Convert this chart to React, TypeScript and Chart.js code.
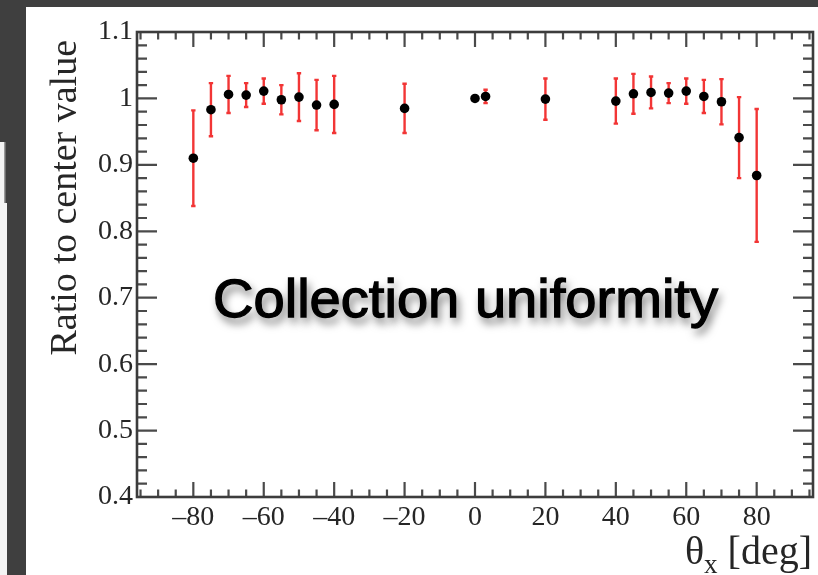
import React, { useEffect, useRef } from 'react';
import { Chart, registerables } from 'chart.js';

Chart.register(...registerables);

// ---- data ----
const thetaX = [-80, -75, -70, -65, -60, -55, -50, -45, -40, -20, 0, 3, 20, 40, 45, 50, 55, 60, 65, 70, 75, 80];
const ratio = [0.910, 0.983, 1.006, 1.005, 1.011, 0.998, 1.002, 0.990, 0.991, 0.985, 1.000, 1.003, 0.999, 0.996, 1.007, 1.009, 1.008, 1.011, 1.003, 0.995, 0.941, 0.884];
const ratioErr = [0.072, 0.040, 0.028, 0.018, 0.019, 0.022, 0.036, 0.038, 0.043, 0.037, 0.0, 0.010, 0.031, 0.034, 0.030, 0.024, 0.015, 0.019, 0.025, 0.034, 0.061, 0.100];
const xTicks = [-80, -60, -40, -20, 0, 20, 40, 60, 80];
const yTicks = [0.4, 0.5, 0.6, 0.7, 0.8, 0.9, 1.0, 1.1];
const xRange = [-96, 96];
const yRange = [0.4, 1.1];
const xMinorStep = 5;
const yMinorStep = 0.02;
const yTitle = 'Ratio to center value';
const xTitleMain = '\u03B8';
const xTitleSub = 'x';
const xTitleUnit = ' [deg]';
const overlayText = 'Collection uniformity';

const SERIF = '"Liberation Serif", "DejaVu Serif", serif';
const SANS = '"Liberation Sans", Arial, sans-serif';

const rootStyle = {
  id: 'rootStyle',
  beforeDraw(chart: any) {
    const ctx = chart.ctx as CanvasRenderingContext2D;
    const W = chart.width, H = chart.height;
    ctx.save();
    ctx.fillStyle = '#3f3f3f';
    ctx.fillRect(0, 0, W, H);
    ctx.fillStyle = '#ffffff';
    ctx.fillRect(26, 7, W - 26, H - 7);
    ctx.fillStyle = '#f4f4f4';
    ctx.fillRect(0, 142, 4, 61);
    ctx.fillRect(0, 203, 7, H - 203);
    ctx.fillStyle = '#9a9a9a';
    ctx.fillRect(4, 142, 1.5, 61);
    ctx.restore();
  },
  beforeDatasetsDraw(chart: any) {
    const ctx = chart.ctx as CanvasRenderingContext2D;
    const xs = chart.scales.x, ys = chart.scales.y;
    const { left, right, top, bottom } = chart.chartArea;
    ctx.save();
    // error bars
    ctx.strokeStyle = '#f23535';
    ctx.lineWidth = 2.4;
    thetaX.forEach((xv, i) => {
      const e = ratioErr[i];
      if (e <= 0) return;
      const px = xs.getPixelForValue(xv);
      const y1 = ys.getPixelForValue(ratio[i] + e);
      const y2 = ys.getPixelForValue(ratio[i] - e);
      ctx.beginPath();
      ctx.moveTo(px, y1);
      ctx.lineTo(px, y2);
      ctx.stroke();
      ctx.beginPath();
      ctx.moveTo(px - 2.2, y1);
      ctx.lineTo(px + 2.2, y1);
      ctx.moveTo(px - 2.2, y2);
      ctx.lineTo(px + 2.2, y2);
      ctx.stroke();
    });
    // ticks
    ctx.strokeStyle = '#4a4a4a';
    ctx.lineWidth = 2.2;
    ctx.beginPath();
    for (let k = Math.ceil(xRange[0] / xMinorStep); k * xMinorStep <= xRange[1]; k++) {
      const v = k * xMinorStep;
      const major = xTicks.some(t => Math.abs(t - v) < 1e-6);
      const len = major ? 15 : 7.5;
      const px = xs.getPixelForValue(v);
      ctx.moveTo(px, bottom);
      ctx.lineTo(px, bottom - len);
      ctx.moveTo(px, top);
      ctx.lineTo(px, top + len);
    }
    for (let k = Math.ceil(yRange[0] / yMinorStep - 1e-6); k * yMinorStep <= yRange[1] + 1e-6; k++) {
      const v = k * yMinorStep;
      const major = yTicks.some(t => Math.abs(t - v) < 1e-6);
      const len = major ? 20 : 10;
      const py = ys.getPixelForValue(v);
      ctx.moveTo(left, py);
      ctx.lineTo(left + len, py);
      ctx.moveTo(right, py);
      ctx.lineTo(right - len, py);
    }
    ctx.stroke();
    // frame
    ctx.strokeStyle = '#3c3c3c';
    ctx.lineWidth = 2.6;
    ctx.strokeRect(left, top, right - left, bottom - top);
    ctx.restore();
  },
  afterDraw(chart: any) {
    const ctx = chart.ctx as CanvasRenderingContext2D;
    const { top, right } = chart.chartArea;
    ctx.save();
    // y title
    ctx.fillStyle = '#262626';
    ctx.translate(76, top + 8);
    ctx.rotate(-Math.PI / 2);
    ctx.font = `38px ${SERIF}`;
    ctx.textAlign = 'right';
    ctx.textBaseline = 'alphabetic';
    ctx.fillText(yTitle, 0, 0);
    ctx.restore();

    // x title
    ctx.save();
    ctx.fillStyle = '#262626';
    ctx.textBaseline = 'alphabetic';
    ctx.font = `40px ${SERIF}`;
    const wUnit = ctx.measureText(xTitleUnit).width;
    const wMain = ctx.measureText(xTitleMain).width;
    ctx.font = `27px ${SERIF}`;
    const wSub = ctx.measureText(xTitleSub).width;
    const xEnd = right - 1;
    const base = 564;
    ctx.font = `40px ${SERIF}`;
    ctx.textAlign = 'left';
    ctx.fillText(xTitleUnit, xEnd - wUnit, base);
    ctx.fillText(xTitleMain, xEnd - wUnit - wSub - wMain, base);
    ctx.font = `27px ${SERIF}`;
    ctx.fillText(xTitleSub, xEnd - wUnit - wSub, base + 9);
    ctx.restore();

    // overlay text with shadow
    ctx.save();
    ctx.font = `53px ${SANS}`;
    const w = ctx.measureText(overlayText).width;
    const sx = 505 / w;
    ctx.translate(213, 317);
    ctx.scale(sx, 1);
    ctx.shadowColor = 'rgba(0,0,0,0.6)';
    ctx.shadowBlur = 9;
    ctx.shadowOffsetX = 3;
    ctx.shadowOffsetY = 6;
    ctx.fillStyle = '#000';
    ctx.textBaseline = 'alphabetic';
    ctx.fillText(overlayText, 0, 0);
    ctx.shadowColor = 'rgba(0,0,0,0)';
    ctx.strokeStyle = '#000';
    ctx.lineWidth = 1.3;
    ctx.strokeText(overlayText, 0, 0);
    ctx.restore();
  },
};

export default function App() {
  const ref = useRef<HTMLCanvasElement>(null);
  useEffect(() => {
    const canvas = ref.current;
    if (!canvas) return;
    const chart = new Chart(canvas, {
      type: 'scatter',
      data: {
        datasets: [
          {
            data: thetaX.map((x, i) => ({ x, y: ratio[i] })),
            pointRadius: 4.8,
            pointHoverRadius: 4.8,
            pointBackgroundColor: '#000',
            pointBorderWidth: 0,
            pointBorderColor: '#000',
          },
        ],
      },
      options: {
        animation: false,
        responsive: false,
        devicePixelRatio: 1,
        events: [],
        layout: { padding: { left: 0, top: 32, right: 5, bottom: 0 } },
        plugins: {
          legend: { display: false },
          tooltip: { enabled: false },
          title: { display: false },
        },
        scales: {
          x: {
            type: 'linear',
            min: xRange[0],
            max: xRange[1],
            afterBuildTicks: (s: any) => {
              s.ticks = xTicks.map(v => ({ value: v }));
            },
            afterFit: (s: any) => {
              s.height = 78;
            },
            grid: { display: false, drawTicks: false },
            border: { display: false },
            ticks: {
              autoSkip: false,
              maxRotation: 0,
              padding: 4,
              color: '#262626',
              font: { family: SERIF, size: 28 },
              callback: (v: any) => (v < 0 ? '\u2013' + Math.abs(v) : String(v)),
            },
          },
          y: {
            type: 'linear',
            min: yRange[0],
            max: yRange[1],
            afterBuildTicks: (s: any) => {
              s.ticks = yTicks.map(v => ({ value: v }));
            },
            afterFit: (s: any) => {
              s.width = 137;
            },
            grid: { display: false, drawTicks: false },
            border: { display: false },
            ticks: {
              autoSkip: false,
              padding: 4,
              color: '#262626',
              font: { family: SERIF, size: 28 },
              callback: (v: any) => (Math.abs(v - 1) < 1e-9 ? '1' : Number(v).toFixed(1)),
            },
          },
        },
      },
      plugins: [rootStyle],
    } as any);
    return () => chart.destroy();
  }, []);
  return (
    <div style={{ position: 'fixed', left: 0, top: 0, width: 818, height: 575 }}>
      <canvas ref={ref} width={818} height={575} style={{ display: 'block', width: 818, height: 575 }} />
    </div>
  );
}
